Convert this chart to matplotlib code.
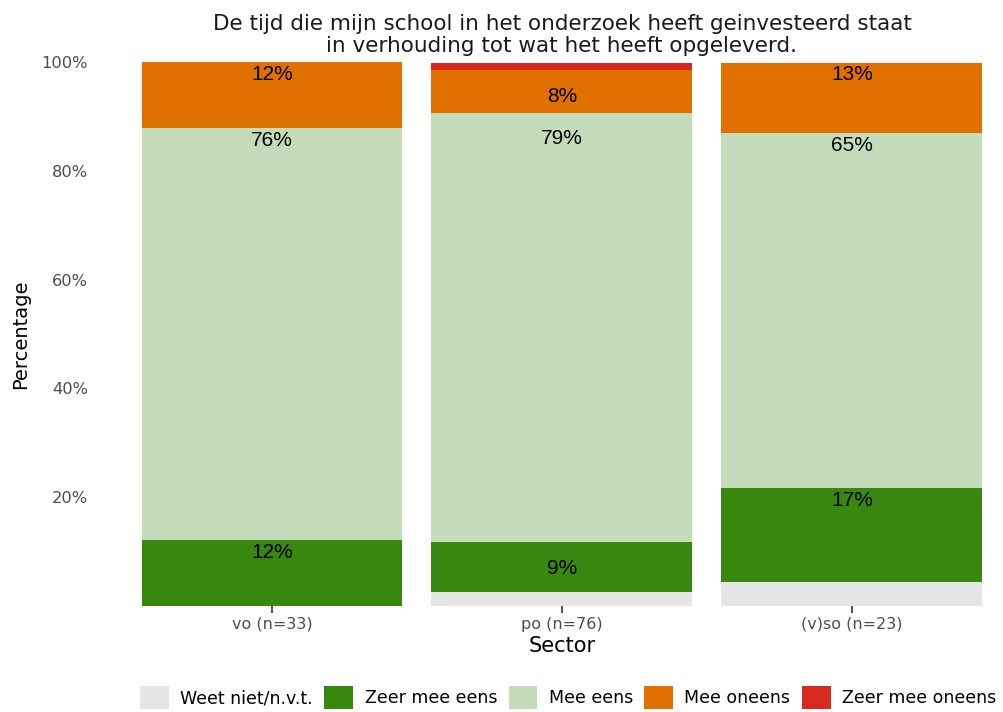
import numpy as np
import matplotlib
matplotlib.use("Agg")
import matplotlib.pyplot as plt
from matplotlib.patches import Patch

plt.rcParams["font.family"] = ["DejaVu Sans"]

#############################################################################################
# data (percentages per sector, bottom -> top)
sectors = ["vo (n=33)", "po (n=76)", "(v)so (n=23)"]
categories = ["Weet niet/n.v.t.", "Zeer mee eens", "Mee eens", "Mee oneens", "Zeer mee oneens"]
weet_niet = [0.0, 2.6, 4.3]
zeer_mee_eens = [12.1, 9.2, 17.4]
mee_eens = [75.8, 78.9, 65.2]
mee_oneens = [12.1, 7.9, 13.0]
zeer_mee_oneens = [0.0, 1.3, 0.0]
# in the original the po labels are stacked without the "weet niet" share
labels_skip_weet_niet = [False, True, False]
colors = ["#e5e5e5", "#38870e", "#c4dcba", "#e07000", "#d62a20"]

title = "De tijd die mijn school in het onderzoek heeft geinvesteerd staat\nin verhouding tot wat het heeft opgeleverd."

#############################################################################################
series = [weet_niet, zeer_mee_eens, mee_eens, mee_oneens, zeer_mee_oneens]
x = np.arange(len(sectors))

fig = plt.figure(figsize=(10.04, 7.12), dpi=100)
ax = fig.add_axes([0.1265, 0.1492, 0.8665, 0.7637])

bottom = np.zeros(len(sectors))
label_bottom = np.where(labels_skip_weet_niet, -np.array(weet_niet), 0.0)
for idx, (vals, col) in enumerate(zip(series, colors)):
    vals = np.array(vals)
    ax.bar(x, vals, width=0.9, bottom=bottom, color=col, edgecolor="none")
    bottom = bottom + vals
    label_bottom = label_bottom + vals
    # labels only for the agreement categories with a visible share
    if idx in (1, 2, 3):
        for xi, v, t in zip(x, vals, label_bottom):
            if v >= 5:
                ax.annotate(f"{v:.0f}%", (xi, t), xytext=(0, -2), textcoords="offset points",
                            ha="center", va="top", fontsize=15, color="black",
                            family="Liberation Sans")

ax.set_xlim(-0.5, 2.5)
ax.set_ylim(0, 100)
ax.set_yticks([20, 40, 60, 80, 100])
ax.set_yticklabels([f"{v}%" for v in [20, 40, 60, 80, 100]])
ax.set_xticks(x)
ax.set_xticklabels(sectors)
for s in ax.spines.values():
    s.set_visible(False)
ax.tick_params(axis="y", length=0, pad=28, labelsize=11.7, labelcolor="#4d4d4d")
ax.tick_params(axis="x", length=5, width=1.2, color="#333333", pad=3, labelsize=11.5, labelcolor="#4d4d4d")
ax.set_xlabel("Sector", fontsize=15, labelpad=3)
ax.set_ylabel("Percentage", fontsize=14, labelpad=8)
ax.set_title(title, fontsize=15.5, color="#1a1a1a", pad=7, linespacing=1.15)

handles = [Patch(facecolor=c, edgecolor="none") for c in colors]
fig.legend(handles, categories, loc="center", ncol=5, bbox_to_anchor=(0.566, 0.02),
           frameon=False, fontsize=12.5, handlelength=1.65, handleheight=1.65,
           handletextpad=0.66, columnspacing=0.66)

plt.savefig("out.png", dpi=100)
